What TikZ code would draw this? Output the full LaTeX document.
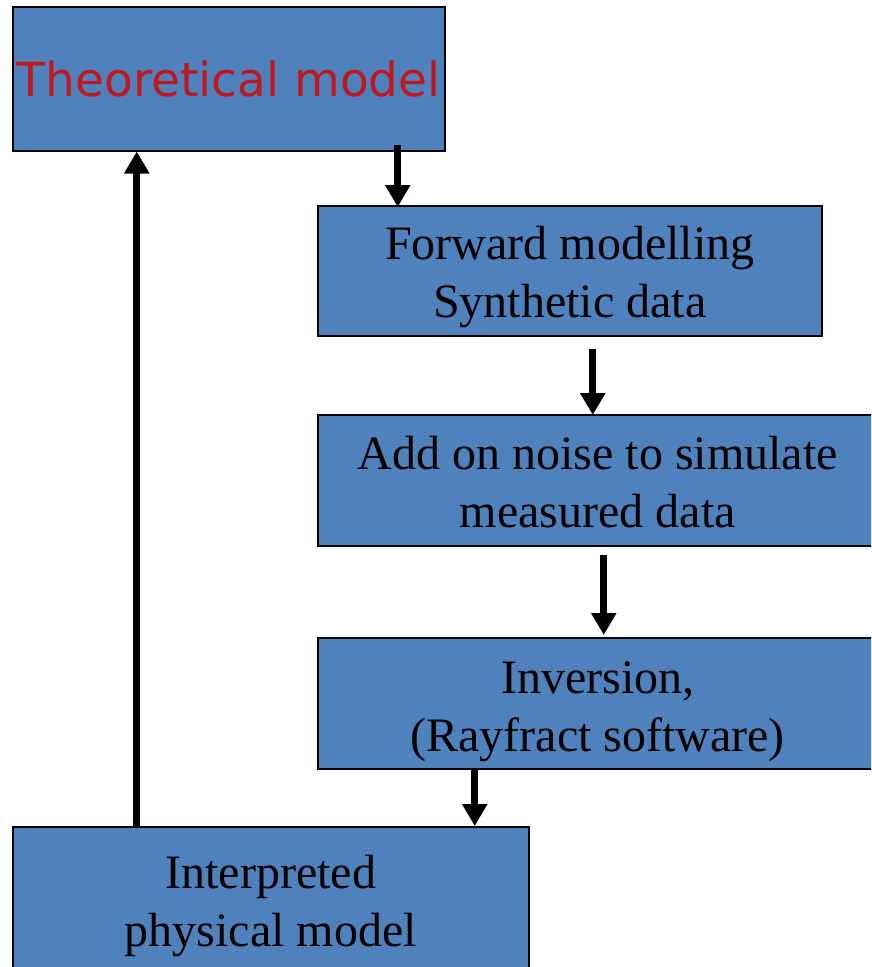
\documentclass[tikz,border=0pt]{standalone}
\usepackage{fontspec}
\setmainfont{Liberation Serif}
\newfontfamily\headfont{DejaVu Sans}
\usetikzlibrary{arrows.meta}
\definecolor{boxblue}{RGB}{79,129,189}
\definecolor{headred}{RGB}{192,24,28}
% push the first line of a box down a little
\newcommand{\topgap}[1]{\rule{0pt}{#1pt}}

\begin{document}
\begin{tikzpicture}[x=1pt, y=-1pt,
  blk/.style={draw=black, line width=1.5pt, fill=boxblue, rectangle, inner sep=0pt,
              anchor=north west, align=center, font=\fontsize{48}{58}\selectfont},
  flow/.style={line width=7pt, -{Triangle[width=24pt, length=22pt]}}]

% frame of the picture
\useasboundingbox (0, 0) rectangle (871, 967);
\clip (0, 0) rectangle (871, 967);

% draw boxes
\node[blk, minimum width=432pt, minimum height=144pt, text=headred,
      font=\headfont\fontsize{47}{56}\selectfont] (theory) at (12, 6) {Theoretical model};
\node[blk, minimum width=504pt, minimum height=130pt] (fwd) at (317, 205)
      {\topgap{45}Forward modelling\\Synthetic data};
\node[blk, minimum width=560pt, minimum height=131pt] (noise) at (317, 414)
      {\topgap{37}Add on noise to simulate\\measured data};
\node[blk, minimum width=560pt, minimum height=131pt] (inv) at (317, 637)
      {\topgap{48}Inversion,\\(Rayfract software)};
\node[blk, minimum width=516pt, minimum height=150pt] (interp) at (12, 826)
      {\topgap{41}Interpreted\\physical model};

% draw arrows
\draw[flow] ([shift={(169, -7)}]theory.south) -- ([shift={(169, 2)}]theory.south |- fwd.north);
\draw[flow] ([shift={(23, 12)}]fwd.south) -- ([shift={(23, 1)}]fwd.south |- noise.north);
\draw[flow] ([shift={(6, 8)}]noise.south) -- ([shift={(6, -2)}]noise.south |- inv.north);
\draw[flow] ([xshift=-123]inv.south) -- ([xshift=-123]inv.south |- interp.north);
\draw[flow] ([xshift=-134]interp.north) -- ([xshift=-134]interp.north |- theory.south);

\end{tikzpicture}
\end{document}
